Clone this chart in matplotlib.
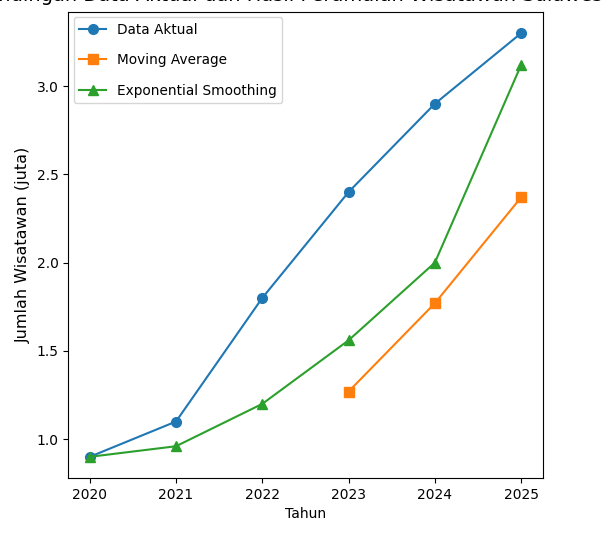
import matplotlib
matplotlib.use("Agg")
import matplotlib.pyplot as plt

# data
tahun = [2020, 2021, 2022, 2023, 2024, 2025]
data_aktual = [0.9, 1.1, 1.8, 2.4, 2.9, 3.3]
tahun_ma = [2023, 2024, 2025]
moving_avg = [1.27, 1.77, 2.37]
exp_smooth = [0.9, 0.96, 1.2, 1.56, 2.0, 3.12]

fig = plt.figure(figsize=(6.03, 5.38), dpi=100)
ax = fig.add_axes([0.113, 0.1115, 0.787, 0.8662])

ax.plot(tahun, data_aktual, marker='o', markersize=7, label='Data Aktual')
ax.plot(tahun_ma, moving_avg, marker='s', markersize=7, label='Moving Average')
ax.plot(tahun, exp_smooth, marker='^', markersize=7, label='Exponential Smoothing')

ax.set_title("Perbandingan Data Aktual dan Hasil Peramalan Wisatawan Sulawesi Utara",
             fontsize=14, pad=8)
ax.set_xlabel("Tahun", fontsize=10)
ax.set_ylabel("Jumlah Wisatawan (juta)", fontsize=11.5)
ax.set_xticks(tahun)
ax.tick_params(labelsize=10)
ax.legend(loc='upper left', fontsize=9.8, labelspacing=1.2, borderaxespad=0.4)

fig.savefig("out.png", dpi=100)
